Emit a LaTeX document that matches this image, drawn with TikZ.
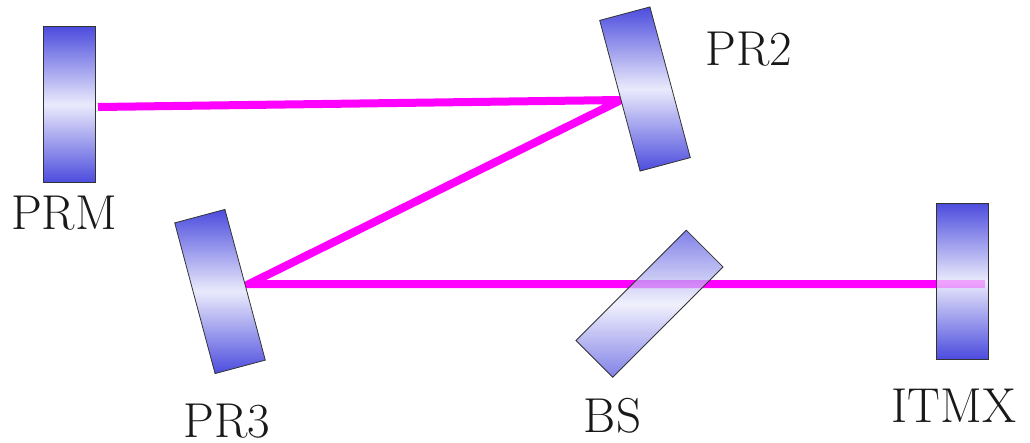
\documentclass[tikz,border=0pt]{standalone}
\definecolor{mdark}{RGB}{76,76,222}
\definecolor{mlight}{RGB}{234,234,252}
\definecolor{beamc}{RGB}{255,0,255}
\begin{document}
\begin{tikzpicture}[x=1pt,y=-1pt,
  mirror/.style={draw=black!80, line width=0.8pt, inner sep=0pt, minimum width=52pt, minimum height=156pt, top color=mdark, bottom color=mdark, middle color=mlight},
  beam/.style={draw=beamc, line width=8pt},
  lbl/.style={font=\fontsize{49}{55}\selectfont, text=black!90, anchor=base, inner sep=0pt}]
\useasboundingbox (0,0) rectangle (1030,442);
\coordinate (bPRM) at (98,107);
\coordinate (bPR2) at (621,100);
\coordinate (bPR3) at (249,284);
\coordinate (bITM) at (985,284);
\draw[beam] (bPRM) -- (bPR2) -- (bPR3) -- (bITM);
\node[mirror] (PRM) at (69,104.5) {};
\node[mirror, rotate=15] (PR2) at (645,89) {};
\node[mirror, rotate=15] (PR3) at (220,291.5) {};
\node[mirror, rotate=-45, fill opacity=0.7] (BS) at (649.5,303.7) {};
\node[mirror] (ITMX) at (962.5,281) {};
\draw[beam, draw opacity=0.3] (ITMX.west |- bITM) -- (bITM);
\node[lbl] (tPRM) at (64,229) {PRM};
\node[lbl] (tPR2) at (749,65) {PR2};
\node[lbl] (tPR3) at (227,437) {PR3};
\node[lbl] (tBS) at (612.5,432) {BS};
\node[lbl] (tITMX) at (954,422.5) {ITMX};
\end{tikzpicture}
\end{document}
